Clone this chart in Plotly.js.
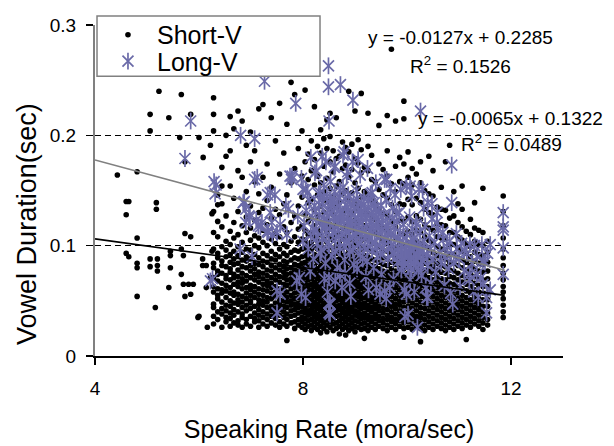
<!DOCTYPE html>
<html>
<head>
<meta charset="utf-8">
<script src="https://cdn.plot.ly/plotly-3.0.1.min.js"></script>
<style>html,body{margin:0;padding:0;background:#fff;}#chart{width:614px;height:446px;}</style>
</head>
<body>
<div id="chart"></div>
<script>
// ---------- DATA ----------
// Short-V: speaking-rate columns (mora/sec) and vowel durations in each column (ms)
const shortRates = [
  4.43, 4.6, 4.65, 4.81, 5.06, 5.16, 5.18, 5.2, 5.23, 5.42, 5.45, 5.63, 5.66, 5.7, 5.73, 5.8, 5.84, 5.89, 5.98, 6.0, 6.07, 6.08, 6.14, 6.16, 6.22, 6.25,
  6.28, 6.36, 6.44, 6.52, 6.6, 6.67, 6.75, 6.83, 6.91, 6.99, 7.07, 7.15, 7.23, 7.31, 7.39, 7.47, 7.55, 7.63, 7.69, 7.77, 7.84, 7.91, 7.98,
  8.04, 8.1, 8.16, 8.22, 8.28, 8.34, 8.4, 8.46, 8.52, 8.58, 8.64, 8.7, 8.76, 8.82, 8.88, 8.94, 9.0, 9.06, 9.12, 9.18, 9.25, 9.32, 9.39, 9.46,
  9.54, 9.62, 9.7, 9.78, 9.86, 9.94, 10.02, 10.1, 10.18, 10.26, 10.34, 10.42, 10.5, 10.58, 10.66, 10.74, 10.82, 10.9, 10.98, 11.06, 11.14,
  11.22, 11.3, 11.38, 11.46, 11.55, 11.85
];
const shortDurMs = [
  [164], [140, 128, 93], [140, 90], [167, 107, 84, 80, 54], [219, 204, 88, 81], [44], [139, 133], [88, 82, 77], [240],
  [216, 62], [95, 91, 80], [198], [237, 97, 74], [91, 65], [176, 111, 54], [65], [219, 108, 56], [65], [35], [198, 36],
  [82, 88], [180], [82, 62], [26], [191, 71], [129, 95],
  [29, 36, 44, 47, 58, 63, 71, 80, 84, 97, 112, 131, 204, 219, 234],
  [33, 40, 52, 55, 61, 68, 74, 77, 89, 93, 108, 122, 137, 146],
  [26, 38, 43, 49, 57, 60, 66, 75, 82, 86, 99, 117, 138, 154, 171],
  [31, 35, 41, 46, 53, 59, 64, 70, 73, 81, 90, 96, 104, 127, 181, 200],
  [27, 34, 39, 45, 50, 57, 62, 69, 76, 79, 85, 92, 101, 113, 154, 186, 217],
  [30, 37, 42, 48, 55, 58, 65, 71, 74, 83, 88, 95, 107, 121, 143, 206],
  [28, 32, 40, 47, 51, 56, 63, 67, 72, 78, 84, 91, 99, 110, 131, 168, 222],
  [26, 35, 38, 44, 49, 54, 61, 66, 70, 75, 81, 87, 94, 103, 118, 162, 213],
  [29, 33, 41, 46, 52, 57, 62, 68, 73, 80, 86, 90, 97, 112, 126, 149, 191],
  [27, 36, 43, 48, 50, 55, 60, 64, 71, 77, 82, 88, 96, 105, 116, 136, 176, 203],
  [31, 34, 39, 45, 53, 58, 63, 69, 74, 79, 84, 92, 100, 109, 123, 158, 186],
  [26, 32, 37, 42, 47, 51, 56, 61, 67, 72, 76, 83, 89, 98, 107, 130, 147, 224],
  [29, 35, 40, 46, 50, 55, 60, 65, 70, 75, 81, 86, 93, 103, 114, 134, 162, 228],
  [27, 33, 38, 44, 49, 53, 59, 64, 68, 73, 78, 85, 91, 100, 119, 141, 174],
  [30, 36, 41, 45, 52, 57, 62, 66, 71, 77, 82, 88, 95, 106, 125, 153, 216],
  [28, 34, 39, 43, 48, 54, 58, 63, 69, 74, 80, 87, 92, 102, 111, 133, 195],
  [26, 31, 37, 42, 47, 51, 56, 61, 67, 72, 78, 83, 90, 97, 108, 128, 165, 229],
  [29, 35, 40, 45, 50, 55, 60, 65, 71, 76, 81, 86, 93, 101, 117, 138, 184],
  [14, 27, 33, 38, 44, 49, 53, 58, 64, 69, 74, 79, 85, 91, 99, 112, 146, 210],
  [30, 36, 41, 46, 50, 55, 61, 66, 70, 75, 80, 87, 94, 104, 121, 157, 248],
  [25, 31, 37, 42, 47, 52, 57, 62, 67, 72, 78, 83, 89, 96, 108, 127, 170, 237],
  [28, 33, 39, 44, 48, 53, 58, 63, 68, 73, 77, 82, 88, 95, 103, 115, 136, 188],
  [26, 31, 35, 40, 45, 50, 54, 59, 64, 69, 74, 79, 84, 90, 97, 106, 118, 144, 163, 204],
  [24, 29, 34, 39, 43, 48, 52, 57, 61, 66, 71, 75, 80, 85, 91, 98, 105, 114, 128, 151, 176, 241],
  [27, 32, 37, 41, 46, 51, 55, 60, 64, 69, 73, 78, 83, 88, 94, 101, 110, 122, 139, 160, 183],
  [23, 28, 33, 38, 42, 47, 51, 56, 60, 65, 70, 74, 79, 84, 89, 96, 103, 112, 125, 142, 168, 195],
  [26, 31, 36, 40, 45, 49, 54, 58, 63, 67, 72, 77, 81, 87, 92, 99, 108, 118, 132, 155, 178, 226],
  [24, 29, 34, 38, 43, 47, 52, 56, 61, 65, 70, 74, 79, 85, 90, 97, 104, 114, 127, 146, 163, 190],
  [21, 27, 32, 36, 41, 45, 50, 55, 59, 64, 68, 73, 77, 82, 88, 94, 101, 110, 121, 136, 157, 184, 205],
  [25, 30, 35, 39, 44, 48, 53, 57, 62, 66, 71, 75, 80, 86, 91, 98, 106, 116, 130, 149, 172, 197],
  [22, 28, 33, 37, 42, 46, 51, 55, 60, 64, 69, 73, 78, 83, 89, 95, 103, 112, 124, 140, 161, 188, 214],
  [26, 31, 35, 40, 44, 49, 53, 58, 62, 67, 71, 76, 81, 86, 92, 99, 108, 119, 133, 152, 176, 199, 220],
  [23, 29, 34, 38, 43, 47, 52, 56, 61, 65, 70, 74, 79, 84, 90, 97, 105, 115, 128, 145, 167, 186],
  [25, 30, 36, 41, 45, 50, 54, 59, 63, 68, 72, 77, 82, 87, 93, 100, 109, 120, 135, 154, 179, 216],
  [20, 27, 32, 37, 42, 46, 51, 55, 60, 64, 69, 73, 78, 83, 88, 94, 102, 111, 123, 139, 158, 181],
  [24, 29, 34, 39, 43, 48, 52, 57, 61, 66, 70, 75, 80, 85, 91, 98, 106, 116, 129, 147, 170, 194],
  [19, 26, 31, 36, 40, 45, 49, 54, 58, 63, 67, 72, 76, 81, 86, 92, 99, 108, 118, 132, 150, 173, 189],
  [23, 28, 33, 38, 42, 47, 51, 56, 60, 65, 69, 74, 78, 84, 89, 96, 104, 113, 125, 141, 162, 185, 240],
  [25, 30, 35, 40, 44, 49, 53, 58, 62, 67, 71, 76, 81, 86, 92, 99, 107, 117, 130, 148, 169, 192],
  [22, 27, 32, 37, 41, 46, 50, 55, 59, 64, 68, 73, 78, 83, 89, 95, 103, 112, 123, 138, 157, 179, 222],
  [26, 31, 36, 40, 45, 49, 54, 58, 63, 67, 72, 76, 81, 87, 93, 100, 109, 120, 134, 152, 175, 196],
  [24, 29, 34, 38, 43, 47, 52, 56, 61, 65, 70, 75, 79, 85, 90, 97, 105, 115, 128, 144, 166, 187, 238],
  [16, 25, 30, 35, 39, 44, 48, 53, 57, 62, 66, 71, 75, 80, 85, 91, 98, 107, 118, 131, 149, 171],
  [23, 28, 33, 37, 42, 46, 51, 55, 60, 64, 69, 74, 79, 84, 90, 97, 106, 116, 129, 146, 168, 190, 220],
  [26, 31, 35, 40, 44, 49, 53, 58, 62, 67, 72, 77, 82, 88, 95, 103, 113, 125, 141, 160, 182],
  [24, 29, 34, 38, 43, 47, 52, 56, 61, 66, 71, 76, 81, 87, 94, 102, 112, 124, 139, 158],
  [27, 32, 36, 41, 45, 50, 54, 59, 64, 69, 74, 79, 85, 91, 99, 108, 119, 133, 151, 174, 209],
  [25, 30, 34, 39, 43, 48, 53, 57, 62, 67, 72, 77, 83, 89, 96, 105, 116, 129, 146, 169],
  [23, 28, 33, 37, 42, 47, 51, 56, 61, 66, 71, 76, 82, 88, 95, 104, 114, 127, 143, 163, 186, 218],
  [26, 31, 35, 40, 45, 49, 54, 59, 64, 69, 74, 79, 85, 92, 100, 110, 122, 137, 156, 278],
  [24, 29, 33, 38, 43, 47, 52, 57, 62, 67, 72, 77, 83, 89, 97, 106, 117, 131, 149, 172, 213],
  [27, 32, 36, 41, 46, 50, 55, 60, 65, 70, 75, 80, 86, 93, 101, 111, 123, 138, 158, 180],
  [17, 25, 30, 35, 39, 44, 49, 54, 59, 64, 69, 74, 79, 85, 92, 100, 110, 122, 137, 156, 174, 215, 231],
  [26, 31, 36, 40, 45, 50, 55, 60, 65, 70, 75, 81, 87, 94, 103, 113, 126, 142, 162, 185],
  [24, 29, 34, 38, 43, 48, 53, 58, 63, 68, 73, 79, 85, 92, 100, 110, 122, 137, 155, 170],
  [27, 32, 36, 41, 46, 51, 56, 61, 66, 71, 76, 82, 88, 95, 104, 114, 127, 143, 165],
  [13, 25, 30, 35, 39, 44, 49, 54, 59, 64, 69, 74, 80, 86, 93, 102, 112, 124, 139, 157, 176],
  [23, 28, 33, 38, 43, 48, 53, 58, 63, 68, 73, 78, 84, 91, 99, 108, 119, 133, 150],
  [26, 31, 36, 41, 46, 51, 56, 61, 66, 71, 77, 83, 89, 96, 105, 116, 130, 147, 181],
  [24, 29, 34, 39, 44, 49, 54, 59, 64, 69, 75, 81, 87, 94, 103, 114, 128, 145, 168],
  [27, 32, 37, 42, 47, 52, 57, 62, 67, 72, 78, 84, 91, 99, 108, 120, 135],
  [25, 30, 35, 40, 45, 50, 55, 60, 65, 70, 76, 82, 89, 97, 107, 119, 133, 153],
  [23, 28, 33, 38, 43, 48, 53, 58, 63, 69, 75, 81, 88, 96, 106, 118, 132, 176],
  [26, 31, 36, 41, 46, 51, 56, 61, 66, 72, 78, 85, 92, 101, 112, 125, 191],
  [24, 29, 34, 39, 44, 49, 54, 59, 65, 71, 77, 84, 92, 101, 112, 127, 149],
  [27, 32, 37, 42, 47, 52, 57, 63, 69, 75, 82, 89, 98, 108, 121, 138],
  [25, 30, 35, 40, 45, 50, 55, 61, 67, 73, 80, 87, 95, 105, 117, 133, 154],
  [15, 28, 33, 38, 43, 48, 53, 59, 65, 71, 78, 85, 93, 102, 113],
  [26, 31, 36, 41, 46, 51, 57, 63, 69, 75, 82, 90, 99, 110, 124],
  [29, 34, 39, 44, 49, 54, 60, 66, 72, 79, 86, 94, 104, 116, 139],
  [27, 32, 37, 42, 47, 52, 58, 64, 70, 77, 84, 92, 101, 114],
  [24, 30, 35, 40, 45, 51, 57, 63, 69, 76, 83, 91, 100, 112, 152],
  [28, 33, 39, 45, 51, 57, 63, 70, 77, 85, 94, 104],
  [35, 40, 46, 52, 58, 63, 69, 75, 82, 89, 97, 107, 118, 131, 145]
];

// Long-V: [speaking rate (mora/sec), vowel duration (ms)]
const longPts = [
  [5.73,179],[5.84,213],[6.22,68],[6.26,70],[6.29,158],[6.33,155],[6.31,147],[6.8,200],[7.07,197],[6.87,140],[6.85,139],[6.9,133],
  [6.9,121],[6.96,127],[6.98,126],[7.02,90],[6.79,97],[7.07,160],[7.12,162],[7.1,123],[7.14,118],[7.18,117],[7.21,121],[7.26,249],
  [7.32,146],[7.31,113],[7.33,112],[7.37,148],[7.37,130],[7.4,121],[7.41,110],[7.46,146],[7.5,112],[7.5,59],[7.5,39],[7.56,119],
  [7.56,56],[7.67,136],[7.69,110],[7.72,133],[7.75,163],[7.78,160],[7.79,163],[7.86,229],[7.88,68],[7.9,127],[7.93,71],[7.97,56],
  [7.97,161],[8.0,151],[8.0,104],[8.05,53],[8.05,151],[8.09,148],[8.15,180],[8.23,166],[8.33,148],[8.37,181],[8.49,263],[8.49,244],
  [8.52,142],[8.52,47],[8.52,38],[8.62,172],[8.72,246],[8.77,182],[8.5,213],[8.84,163],[8.96,232],[9.06,178],[9.33,148],[9.13,130],
  [8.9,119],[8.71,129],[8.39,121],[8.2,115],[9.61,160],[10.06,154],[10.3,151],[10.48,138],[9.8,129],[10.26,222],[10.86,173],[10.86,139],
  [9.99,154],[10.23,151],[9.57,160],[10.4,139],[10.19,119],[10.57,121],[10.69,112],[10.82,104],[10.96,97],[11.21,101],[11.44,101],[11.6,101],
  [11.46,86],[11.34,74],[11.53,53],[11.53,39],[11.85,130],[11.85,117],[11.85,114],[11.85,98],[11.85,74],[11.1,96],[11.5,85],[11.37,53],
  [10.2,26],[9.96,36],[8.5,39],[8.5,48],[8.75,62],[8.9,66],[8.5,71],[8.71,74],[10.4,53],[10.84,57],[10.88,47],[9.57,59],
  [9.41,62],[9.95,60],[9.48,56],[9.67,62],[9.99,56],[10.38,53],[10.02,38],[11.21,74],[11.46,65],[9.15,88],
  [8.02,118],[8.06,132],[8.1,97],[8.12,141],[8.15,109],[8.18,125],[8.2,88],[8.22,136],[8.25,114],[8.27,102],[8.3,147],[8.31,128],
  [8.33,93],[8.35,119],[8.37,139],[8.38,107],[8.4,155],[8.42,124],[8.43,84],[8.45,113],[8.46,145],[8.48,132],[8.5,100],[8.51,121],
  [8.53,158],[8.55,138],[8.56,91],[8.58,116],[8.6,127],[8.61,149],[8.63,106],[8.65,134],[8.66,80],[8.68,119],[8.7,143],[8.71,98],
  [8.73,129],[8.75,111],[8.77,153],[8.78,122],[8.8,87],[8.82,137],[8.83,104],[8.85,126],[8.87,146],[8.88,115],[8.9,95],[8.92,131],
  [8.93,120],[8.95,108],[8.97,140],[8.98,83],[9.0,125],[9.02,113],[9.03,150],[9.05,101],[9.07,132],[9.08,118],[9.1,92],[9.12,138],
  [9.13,110],[9.15,124],[9.17,143],[9.18,99],[9.2,129],[9.22,116],[9.23,86],[9.25,135],[9.27,106],[9.28,121],[9.3,147],[9.32,112],
  [9.33,96],[9.35,127],[9.37,139],[9.38,103],[9.4,118],[9.42,131],[9.43,90],[9.45,123],[9.47,109],[9.5,136],[9.52,115],[9.53,98],
  [9.55,128],[9.58,107],[9.6,142],[9.62,119],[9.63,88],[9.65,112],[9.67,126],[9.7,101],[9.72,134],[9.73,94],[9.75,117],[9.78,108],
  [9.8,122],[9.82,85],[9.83,99],[9.85,130],[9.87,111],[9.9,92],[9.92,104],[9.93,119],[9.95,87],[9.97,97],[10.0,110],[10.02,81],
  [10.03,93],[10.05,126],[10.07,102],[10.08,89],[10.1,115],[10.12,96],[10.13,84],[10.15,107],[10.17,121],[10.18,91],[10.2,100],[10.22,78],
  [10.25,112],[10.27,95],[10.3,86],[10.33,104],[10.35,118],[10.38,92],[10.4,82],[10.43,109],[10.45,97],[10.48,124],[10.5,88],[10.53,103],
  [10.55,76],[10.6,114],[10.63,94],[10.66,84],[10.7,106],[10.73,90],[10.77,99],[10.8,79],[10.85,92],[10.9,85],[10.95,111],[11.0,88],
  [11.05,102],[11.1,77],[11.15,93],[11.2,69],[11.25,84],[11.3,100],[11.35,90],[11.42,71],[11.55,93],[11.6,60],
  [8.26,168],[8.44,176],[8.6,171],[8.79,185],[8.86,167],[8.95,176],[9.1,164],[9.24,170],[9.4,157],[9.68,152],[9.77,146],[9.88,151],
  [10.09,145],[10.32,134],[10.58,130],
  [8.14,77],[8.41,70],[8.62,68],[8.81,75],[9.04,79],[9.21,72],[9.36,80],[9.51,74],[9.74,70],[9.89,78],[10.06,69],[10.28,73],
  [10.46,66],[8.47,58],[8.92,54],[9.26,60],[9.6,52],[10.14,58],[10.36,62],[10.72,64],[11.02,63],[11.28,58],
  [8.24,131],[8.28,108],[8.32,137],[8.36,96],[8.39,144],[8.43,118],[8.47,127],[8.49,103],[8.54,134],[8.57,112],[8.59,141],[8.62,95],
  [8.64,123],[8.67,136],[8.69,108],[8.72,150],[8.74,117],[8.76,127],[8.79,99],[8.81,142],[8.84,112],[8.86,131],[8.89,104],[8.91,138],
  [8.94,121],[8.96,96],[8.99,133],[9.01,110],[9.04,142],[9.06,123],[9.09,102],[9.11,130],[9.14,115],[9.16,137],[9.19,107],[9.21,125],
  [9.24,97],[9.26,141],[9.29,114],[9.31,128],[9.34,103],[9.36,119],[9.39,134],[9.41,99],[9.44,116],[9.46,128],[9.49,92],[9.51,121],
  [9.56,104],[9.59,117],[9.64,97],[9.69,111],[9.76,93],[9.84,106],[9.91,88],[9.98,101],[10.04,92],[10.11,105],[10.16,86],[10.24,97],
  [9.93,82],[10.0,95],[10.06,87],[10.09,79],[10.13,99],[10.21,90],[10.26,83],[10.31,95],[9.88,96],[9.81,90]
];

// Linear trendlines shown on the chart: [slope, intercept], drawn over this rate span
const longFitCoef  = [-0.0127, 0.2285];
const shortFitCoef = [-0.0065, 0.1322];
const fitRange = [4, 11.88];

const xTickVals = [4, 8, 12];
const yTickVals = [0, 0.1, 0.2, 0.3];
const yTickText = ['0', '0.1', '0.2', '0.3'];

// ---------- BUILD ----------
const sx = [], sy = [];
shortRates.forEach((r, i) => shortDurMs[i].forEach(d => { sx.push(r); sy.push(d / 1000); }));
const lx = longPts.map(p => p[0]);
const ly = longPts.map(p => p[1] / 1000);
const fitY = c => fitRange.map(x => c[0] * x + c[1]);

const FONT = 'Liberation Sans, Arial, Helvetica, sans-serif';
const STAR = '#6A6AA8';

const traces = [
  {type: 'scatter', mode: 'markers', name: 'Short-V', x: sx, y: sy, legend: 'legend',
   marker: {symbol: 'circle', size: 5.6, color: '#000'}, hoverinfo: 'skip'},
  {type: 'scatter', mode: 'markers', name: 'Long-V', x: lx, y: ly, legend: 'legend2', legendgroup: 'long',
   marker: {symbol: 'x-thin-open', size: 11, color: STAR, line: {color: STAR, width: 1.7}}, hoverinfo: 'skip'},
  {type: 'scatter', mode: 'markers', name: '', x: lx, y: ly, legend: 'legend3', legendgroup: 'long',
   marker: {symbol: 'line-ns-open', size: 12, color: STAR, line: {color: STAR, width: 1.7}}, hoverinfo: 'skip'},
  {type: 'scatter', mode: 'lines', x: fitRange, y: fitY(longFitCoef), showlegend: false,
   line: {color: '#808080', width: 1.6}, hoverinfo: 'skip'},
  {type: 'scatter', mode: 'lines', x: fitRange, y: fitY(shortFitCoef), showlegend: false,
   line: {color: '#000', width: 1.6}, hoverinfo: 'skip'}
];

const legendBase = {x: 0.0085, xanchor: 'left', yanchor: 'middle', bgcolor: 'rgba(0,0,0,0)',
  borderwidth: 0, font: {family: FONT, size: 25, color: '#000'}, itemwidth: 48};

const layout = {
  width: 614, height: 446,
  margin: {l: 95, r: 51, t: 20, b: 90},
  paper_bgcolor: '#fff', plot_bgcolor: '#fff',
  font: {family: FONT, color: '#000'},
  showlegend: true,
  legend: Object.assign({}, legendBase, {y: 0.970}),
  legend2: Object.assign({}, legendBase, {y: 0.890}),
  legend3: Object.assign({}, legendBase, {y: 0.890}),
  xaxis: {
    range: [4, 13], tickvals: xTickVals, ticks: 'outside', ticklen: 7, tickwidth: 1.5, tickcolor: '#000',
    showline: true, linecolor: '#000', linewidth: 1.5, showgrid: false, zeroline: false,
    tickfont: {family: FONT, size: 19, color: '#000'}, ticklabelstandoff: 8,
    title: {text: 'Speaking Rate (mora/sec)', font: {family: FONT, size: 25, color: '#000'}, standoff: 22},
    automargin: false
  },
  yaxis: {
    range: [0, 0.3], tickvals: yTickVals, ticktext: yTickText, ticks: 'outside', ticklen: 7, tickwidth: 1.5, tickcolor: '#000',
    showline: true, linecolor: '#808080', linewidth: 2, zeroline: false,
    showgrid: true, gridcolor: '#000', gridwidth: 1, griddash: '6px,4px',
    tickfont: {family: FONT, size: 19, color: '#000'}, ticklabelstandoff: 6,
    automargin: false
  },
  shapes: [
    {type: 'rect', xref: 'paper', yref: 'paper', x0: 0.0043, x1: 0.4808, y0: 0.845, y1: 1.027,
     fillcolor: '#fff', line: {color: '#808080', width: 1.5}, layer: 'above'}
  ],
  annotations: [
    {xref: 'paper', yref: 'paper', x: 0.780, y: 0.961, text: 'y = -0.0127x + 0.2285', showarrow: false,
     xanchor: 'center', yanchor: 'middle', font: {family: FONT, size: 19, color: '#000'}},
    {xref: 'paper', yref: 'paper', x: 0.782, y: 0.878, text: 'R<sup>2</sup> = 0.1526', showarrow: false,
     xanchor: 'center', yanchor: 'middle', font: {family: FONT, size: 19, color: '#000'}},
    {xref: 'paper', yref: 'paper', x: 0.887, y: 0.717, text: 'y = -0.0065x + 0.1322', showarrow: false,
     xanchor: 'center', yanchor: 'middle', font: {family: FONT, size: 19, color: '#000'}},
    {xref: 'paper', yref: 'paper', x: 0.891, y: 0.643, text: 'R<sup>2</sup> = 0.0489', showarrow: false,
     xanchor: 'center', yanchor: 'middle', font: {family: FONT, size: 19, color: '#000'}},
    {xref: 'paper', yref: 'paper', x: -0.1453, y: 0.399, text: 'Vowel Duration(sec)', showarrow: false,
     textangle: -90, xanchor: 'center', yanchor: 'middle', font: {family: FONT, size: 27, color: '#000'}}
  ]
};

Plotly.newPlot('chart', traces, layout, {displayModeBar: false, staticPlot: true});
</script>
</body>
</html>
